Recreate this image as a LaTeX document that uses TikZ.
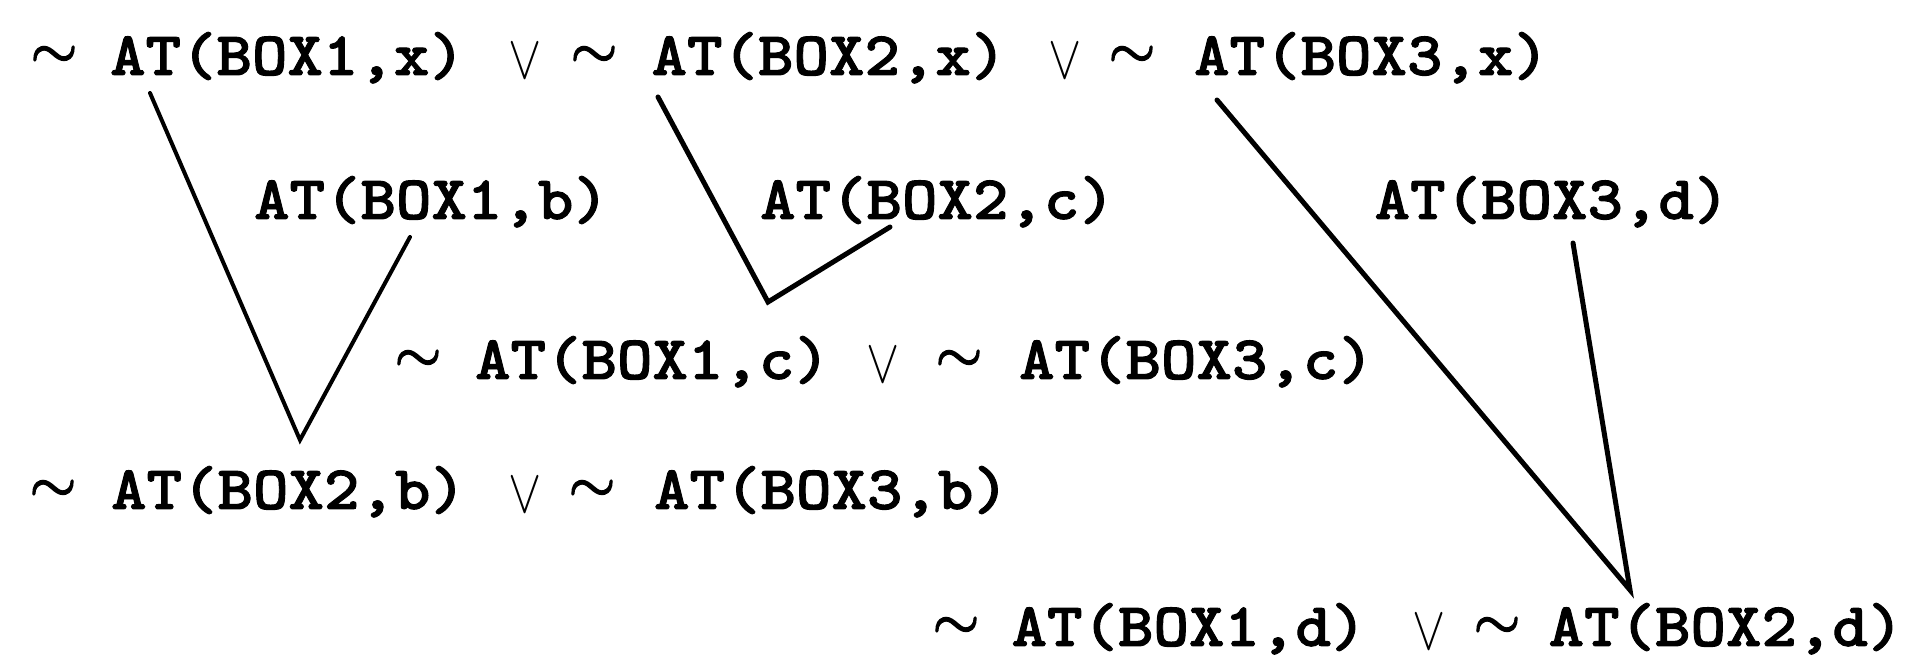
\documentclass[tikz,border=0pt]{standalone}
\usepackage{fontspec}
\newfontfamily\tw[FakeStretch=1.09,FakeBold=1.5]{lmmonolt10-bold.otf}
\newfontfamily\simfont[FakeBold=3]{Latin Modern Math}
\newcommand{\orv}{\scalebox{1}[1.25]{$\vee$}}
\newcommand{\tl}{\simfont ∼}
\begin{document}
\begin{tikzpicture}[x=0.5pt,y=-0.5pt,
  lbl/.style={anchor=base,inner sep=0pt,outer sep=0pt,font=\tw\fontsize{31}{31}\selectfont},
  neg/.style={anchor=center,inner sep=0pt,outer sep=0pt,yshift=8.75pt,font=\fontsize{30}{30}\selectfont},
  orr/.style={anchor=base,inner sep=0pt,outer sep=0pt,font=\fontsize{26}{26}\selectfont},
  edge/.style={line width=2.5pt,line cap=round,line join=miter}]
\useasboundingbox (0,0) rectangle (1908,657);
\fill[white] (0,0) rectangle (1908,657);
% line 1
\node[neg] (n1a) at (54,75) {\tl};
\node[lbl] (l1a) at (287.5,75) {AT(BOX1,x)};
\node[orr] (o1a) at (525,79) {\orv};
\node[neg] (n1b) at (594,75) {\tl};
\node[lbl] (l1b) at (829,75) {AT(BOX2,x)};
\node[orr] (o1b) at (1065,79) {\orv};
\node[neg] (n1c) at (1132,75) {\tl};
\node[lbl] (l1c) at (1371.5,75) {AT(BOX3,x)};
% line 2
\node[lbl] (l2a) at (431.5,219) {AT(BOX1,b)};
\node[lbl] (l2b) at (937.5,219) {AT(BOX2,c)};
\node[lbl] (l2c) at (1552,219) {AT(BOX3,d)};
% line 3
\node[neg] (n3a) at (418,379) {\tl};
\node[lbl] (l3a) at (652.5,379) {AT(BOX1,c)};
\node[orr] (o3a) at (883,383) {\orv};
\node[neg] (n3b) at (959,379) {\tl};
\node[lbl] (l3b) at (1196.5,379) {AT(BOX3,c)};
% line 4
\node[neg] (n4a) at (53,509) {\tl};
\node[lbl] (l4a) at (288.5,509) {AT(BOX2,b)};
\node[orr] (o4a) at (525,513) {\orv};
\node[neg] (n4b) at (592,509) {\tl};
\node[lbl] (l4b) at (831.5,509) {AT(BOX3,b)};
% line 5
\node[neg] (n5a) at (956,646) {\tl};
\node[lbl] (l5a) at (1189,646) {AT(BOX1,d)};
\node[orr] (o5a) at (1429,650) {\orv};
\node[neg] (n5b) at (1497,646) {\tl};
\node[lbl] (l5b) at (1726,646) {AT(BOX2,d)};
% connector points
\coordinate (t1) at (150,93);
\coordinate (t2) at (410,237);
\coordinate (v1) at (300,440);
\coordinate (t3) at (658,97);
\coordinate (t4) at (890,227);
\coordinate (v2) at (768,302);
\coordinate (t5) at (1217,100);
\coordinate (t6) at (1573,243);
\coordinate (v3) at (1630,590);
\draw[edge,line width=2pt] (t1) -- (v1) -- (t2);
\draw[edge] (t3) -- (v2) -- (t4);
\draw[edge] (t5) -- (v3) -- (t6);
\end{tikzpicture}
\end{document}
